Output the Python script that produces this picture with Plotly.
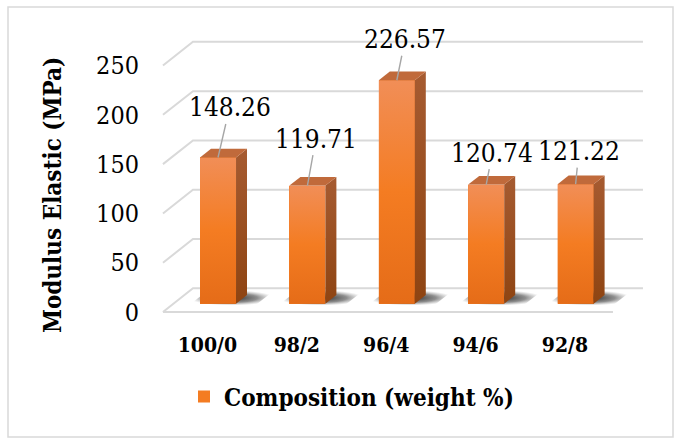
import plotly.graph_objects as go

# ---- data -------------------------------------------------------------
categories = ["100/0", "98/2", "96/4", "94/6", "92/8"]
modulus = [148.26, 119.71, 226.57, 120.74, 121.22]
y_ticks = [0, 50, 100, 150, 200, 250]
series_name = "Composition (weight %)"
y_title = "Modulus Elastic (MPa)"

# ---- layout / pseudo 3-D geometry --------------------------------------
W, H = 674, 439
M_L, M_R, M_T, M_B = 158, 28, 35, 124
PX_X = 89.4          # pixels per category step
PX_Y = 0.986         # pixels per MPa
X_MIN = -0.5526
X_MAX = X_MIN + (W - M_L - M_R) / PX_X
Y_MIN = -3.0
Y_MAX = Y_MIN + (H - M_T - M_B) / PX_Y

DEPTH_X = 30 / PX_X          # horizontal shift from front to back wall
DEPTH_Y = 23.7 / PX_Y        # vertical shift from front to back wall
BAR_D0, BAR_D1 = 0.354, 0.72  # bar depth span (fraction of floor depth)
BAR_W = 36 / PX_X
WALL_LEFT = -0.497
WALL_RIGHT = 4.872

# leader-label offsets in pixels (label centre relative to bar top)
label_offsets = [(11.6, -50), (8.5, -47), (8.3, -41), (6.2, -32), (3.2, -33)]

SERIF = "DejaVu Serif Condensed"
GRID = "#D9D9D9"

idx = list(range(len(categories)))
bar_x = [i + BAR_D0 * DEPTH_X for i in idx]
bar_base = BAR_D0 * DEPTH_Y
bdx = (BAR_D1 - BAR_D0) * DEPTH_X
bdy = (BAR_D1 - BAR_D0) * DEPTH_Y

fig = go.Figure()

# soft shadows on the floor
for i in idx:
    xl = i - BAR_W / 2 - 0.10
    xr = i + BAR_W / 2 + 0.24
    d0, d1 = BAR_D0 - 0.08, BAR_D1 + 0.2
    xs = [xl + d0 * DEPTH_X, xr + d0 * DEPTH_X, xr + d1 * DEPTH_X, xl + d1 * DEPTH_X, xl + d0 * DEPTH_X]
    ys = [d0 * DEPTH_Y, d0 * DEPTH_Y, d1 * DEPTH_Y, d1 * DEPTH_Y, d0 * DEPTH_Y]
    fig.add_trace(go.Scatter(
        x=xs, y=ys, mode="lines", fill="toself", line=dict(width=0),
        fillgradient=dict(type="radial",
                          colorscale=[[0, "rgba(25,25,25,0.95)"], [0.6, "rgba(50,50,50,0.55)"],
                                      [1, "rgba(120,120,120,0)"]]),
        showlegend=False, hoverinfo="skip"))

# front faces of the bars
fig.add_trace(go.Bar(
    x=bar_x, y=modulus, base=bar_base, width=BAR_W,
    marker=dict(color="#F47C22", line=dict(width=0)),
    name=series_name, showlegend=True, hoverinfo="skip"))

for i, v in zip(idx, modulus):
    cx = bar_x[i]
    xl, xr = cx - BAR_W / 2, cx + BAR_W / 2
    yb, yt = bar_base, bar_base + v
    # shaded front face
    fig.add_trace(go.Scatter(
        x=[xl, xr, xr, xl, xl], y=[yb, yb, yt, yt, yb], mode="lines",
        fill="toself", line=dict(width=0),
        fillgradient=dict(type="vertical",
                          colorscale=[[0, "#E56C18"], [0.5, "#F47C22"], [1, "#F18E57"]]),
        showlegend=False, hoverinfo="skip"))
    # right side face
    fig.add_trace(go.Scatter(
        x=[xr, xr + bdx, xr + bdx, xr, xr], y=[yb, yb + bdy, yt + bdy, yt, yb],
        mode="lines", fill="toself", line=dict(width=0),
        fillgradient=dict(type="vertical",
                          colorscale=[[0, "#8E4412"], [1, "#A65B31"]]),
        showlegend=False, hoverinfo="skip"))
    # top face
    fig.add_trace(go.Scatter(
        x=[xl, xr, xr + bdx, xl + bdx, xl], y=[yt, yt, yt + bdy, yt + bdy, yt],
        mode="lines", fill="toself", fillcolor="#C06A3B", line=dict(width=0),
        showlegend=False, hoverinfo="skip"))

# walls: left-side diagonals + back gridlines, floor outline
shapes = []
for t in y_ticks:
    path = (f"M {WALL_LEFT},{t} L {WALL_LEFT + DEPTH_X},{t + DEPTH_Y} "
            f"L {WALL_RIGHT},{t + DEPTH_Y}")
    shapes.append(dict(type="path", path=path, xref="x", yref="y",
                       line=dict(color=GRID, width=2), layer="below"))
shapes.append(dict(type="line", xref="x", yref="y", x0=WALL_LEFT, y0=0,
                   x1=WALL_RIGHT - DEPTH_X, y1=0,
                   line=dict(color=GRID, width=2), layer="below"))


def px_to_paper_x(px):
    return (px - M_L) / (W - M_L - M_R)


def px_to_paper_y(py):
    return (H - M_B - py) / (H - M_T - M_B)


# outer chart frame
shapes.append(dict(type="rect", xref="paper", yref="paper",
                   x0=px_to_paper_x(8), x1=px_to_paper_x(673),
                   y0=px_to_paper_y(437), y1=px_to_paper_y(7),
                   line=dict(color="#D9D9D9", width=1.5), layer="below"))

annotations = []
for i, v in zip(idx, modulus):
    ox, oy = label_offsets[i]
    annotations.append(dict(
        x=bar_x[i], y=bar_base + v, xref="x", yref="y",
        text=f"{v:.2f}", showarrow=True, arrowhead=0, arrowwidth=1.4,
        arrowcolor="#A6A6A6", ax=ox, ay=oy, standoff=0,
        font=dict(family=SERIF, size=26, color="#000000")))

annotations.append(dict(
    x=px_to_paper_x(52), y=px_to_paper_y(195), xref="paper", yref="paper",
    text=f"<b>{y_title}</b>", textangle=-90, showarrow=False,
    xanchor="center", yanchor="middle",
    font=dict(family=SERIF, size=24, color="#000000")))

fig.update_layout(
    width=W, height=H,
    margin=dict(l=M_L, r=M_R, t=M_T, b=M_B, pad=0),
    paper_bgcolor="#FFFFFF", plot_bgcolor="rgba(0,0,0,0)",
    bargap=0,
    xaxis=dict(range=[X_MIN, X_MAX], tickmode="array", tickvals=idx,
               ticktext=[f"<b>{c}</b>" for c in categories],
               tickfont=dict(family=SERIF, size=21, color="#000000"),
               showgrid=False, zeroline=False, showline=False, ticks="",
               ticklabelstandoff=15, fixedrange=True),
    yaxis=dict(range=[Y_MIN, Y_MAX], tickmode="array", tickvals=y_ticks,
               tickfont=dict(family=SERIF, size=25, color="#000000"),
               showgrid=False, zeroline=False, showline=False, ticks="",
               ticklabelstandoff=18, fixedrange=True),
    showlegend=True,
    legend=dict(orientation="h", x=px_to_paper_x(184), y=px_to_paper_y(397),
                xanchor="left", yanchor="middle",
                font=dict(family=SERIF, size=24, color="#000000", weight="bold"),
                bgcolor="rgba(0,0,0,0)"),
    shapes=shapes, annotations=annotations,
)

fig.write_html("out.html")
